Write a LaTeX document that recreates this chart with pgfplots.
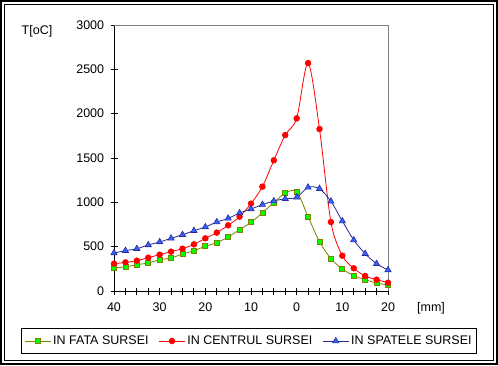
\documentclass[border=0pt]{standalone}
\usepackage{pgfplots}
\pgfplotsset{compat=1.18}
\usepackage{fontspec}
\setmainfont{Liberation Sans}
\definecolor{olivel}{RGB}{128,128,0}
\definecolor{greenm}{RGB}{0,255,0}
\definecolor{navyl}{RGB}{40,40,150}
\definecolor{bluem}{RGB}{51,102,255}
\begin{document}
\fontsize{12.5bp}{14bp}\selectfont
\begin{tikzpicture}
\begin{axis}[
  at={(0bp,0bp)}, anchor=south west,
  scale only axis, width=274bp, height=266bp,
  xmin=-40, xmax=20, ymin=0, ymax=3000,
  xtick={-40,-30,-20,-10,0,10,20},
  xticklabels={40,30,20,10,0,10,20},
  minor x tick num=3,
  ytick={0,500,...,3000},
  tick align=center,
  x tick style={black, line width=1bp}, y tick style={black, line width=1bp},
  major tick length=7bp, minor tick length=7bp,
  axis x line*=bottom, axis y line*=left,
  axis line style={black, line width=1bp, -},
  /pgf/number format/assume math mode=true,
  yticklabel style={/pgf/number format/1000 sep={}, xshift=-2bp},
  xticklabel style={yshift=-4bp},
  tick label style={font=\fontsize{12.5bp}{14bp}\selectfont},
  clip=false,
  legend columns=3,
  legend style={at={(axis description cs:0.4927,-0.188)}, anchor=center,
    draw=black, line width=1bp, font=\fontsize{12.5bp}{14bp}\selectfont,
    inner xsep=3bp, inner ysep=5.5bp,
    /tikz/every even column/.append style={column sep=8bp},
    nodes={inner sep=2bp}},
  legend image code/.code={\draw[mark repeat=2,mark phase=2,#1] plot coordinates {(0bp,0bp) (13bp,0bp) (26bp,0bp)};},
]
\draw[gray, line width=1bp] (rel axis cs:0,1) -- (rel axis cs:1,1) -- (rel axis cs:1,0);
\node at (axis description cs:-0.281,0.977) {T[oC]};
\node at (axis description cs:1.157,-0.064) {[mm]};
\addplot[olivel, line width=0.8bp, smooth, tension=0.5, mark=square*, mark size=2.5bp, mark options={fill=greenm, draw=olivel, line width=0.8bp}] coordinates {
(-40,263) (-37.5,271) (-35,297) (-32.5,316) (-30,353) (-27.5,372) (-25,417) (-22.5,455) (-20,504) (-17.5,545) (-15,609) (-12.5,692) (-10,774) (-7.5,883) (-5,996) (-2.5,1105) (0,1120) (2.5,838) (5,556) (7.5,365) (10,248) (12.5,173) (15,128) (17.5,90) (20,68)};
\addlegendentry{IN FATA SURSEI}
\addplot[red, line width=0.8bp, smooth, tension=0.5, mark=*, mark size=2.8bp, mark options={fill=red, draw=red}] coordinates {
(-40,308) (-37.5,323) (-35,342) (-32.5,376) (-30,410) (-27.5,444) (-25,477) (-22.5,526) (-20,594) (-17.5,658) (-15,741) (-12.5,838) (-10,985) (-7.5,1177) (-5,1474) (-2.5,1759) (0,1947) (2.5,2571) (5,1827) (7.5,778) (10,398) (12.5,256) (15,169) (17.5,128) (20,94)};
\addlegendentry{IN CENTRUL SURSEI}
\addplot[navyl, line width=0.8bp, smooth, tension=0.5, mark=triangle*, mark size=3.6bp, mark options={fill=bluem, draw=navyl, line width=0.6bp}] coordinates {
(-40,429) (-37.5,455) (-35,477) (-32.5,519) (-30,553) (-27.5,594) (-25,635) (-22.5,680) (-20,722) (-17.5,778) (-15,819) (-12.5,880) (-10,925) (-7.5,974) (-5,1015) (-2.5,1041) (0,1056) (2.5,1169) (5,1154) (7.5,1011) (10,789) (12.5,575) (15,421) (17.5,308) (20,237)};
\addlegendentry{IN SPATELE SURSEI}
\end{axis}
\begin{scope}[x=1bp,y=1bp]
\useasboundingbox (-114,-74) rectangle (384,291);
\draw[line width=2bp] (-113,-73) rectangle (383,290);
\draw[line width=1bp] (-109.5,-69.5) rectangle (379.5,286.5);
\end{scope}
\end{tikzpicture}
\end{document}
